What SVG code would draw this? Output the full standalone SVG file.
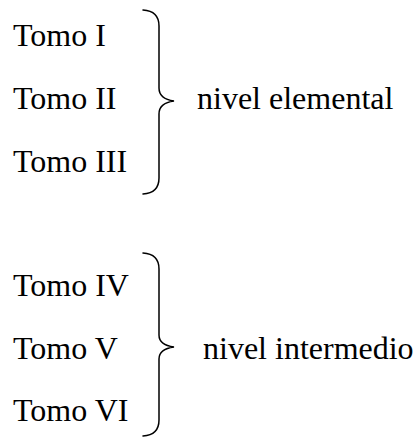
<svg xmlns="http://www.w3.org/2000/svg" width="417" height="438" viewBox="0 0 417 438">
  <style>
    text { font-family: "Liberation Serif", "Times New Roman", serif; font-size: 32px; fill: #000; }
    .brace { fill: none; stroke: #000; stroke-width: 1.5; stroke-linecap: round; }
  </style>
  <rect width="417" height="438" fill="#fff"/>
  <g id="volumes-elemental">
    <text x="13" y="46">Tomo I</text>
    <text x="13" y="109">Tomo II</text>
    <text x="13" y="172">Tomo III</text>
  </g>
  <g id="volumes-intermedio">
    <text x="13" y="296">Tomo IV</text>
    <text x="13" y="359">Tomo V</text>
    <text x="13" y="421">Tomo VI</text>
  </g>
  <g id="connectors">
    <path class="brace" d="M143,10 Q159,11 159,26 L159,88 Q159,99 174,101 Q159,103 159,114 L159,178 Q159,193 143,194"/>
    <path class="brace" d="M143,253 Q159,254 159,269 L159,335 Q159,345 174,347 Q159,349 159,359 L159,420 Q159,435 143,436"/>
  </g>
  <g id="label-elemental">
    <text x="197" y="109">nivel elemental</text>
  </g>
  <g id="label-intermedio">
    <text x="203" y="359">nivel intermedio</text>
  </g>
</svg>
